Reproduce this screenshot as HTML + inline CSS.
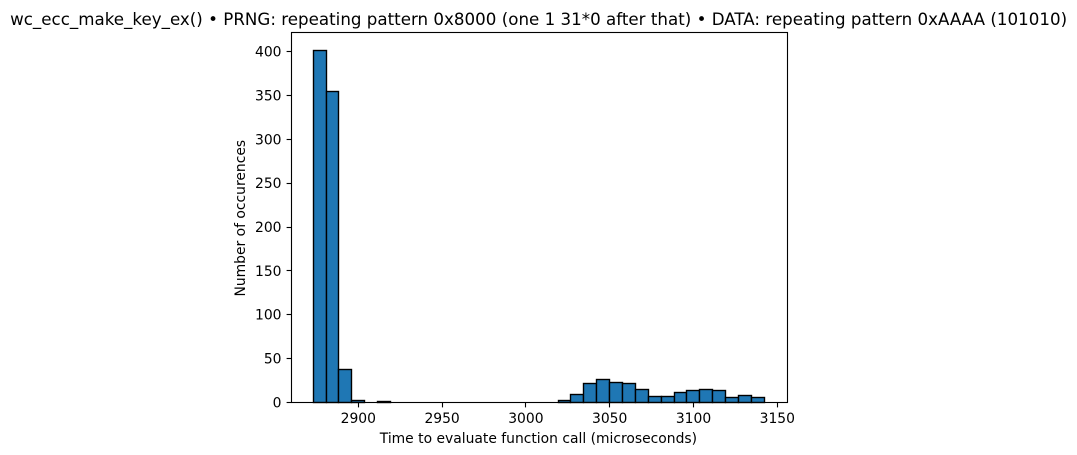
<!DOCTYPE html>
<html lang="en">
<head>
<meta charset="utf-8">
<title>wc_ecc_make_key_ex() histogram</title>
<style>
  html, body { margin: 0; padding: 0; background: #fff; }
  svg { display: block; }
  text { font-family: "DejaVu Sans", "Liberation Sans", sans-serif; fill: #000; }
</style>
</head>
<body>
<svg id="chart" xmlns="http://www.w3.org/2000/svg" width="1077" height="455" viewBox="0 0 1077 455">
  <rect x="0" y="0" width="1077" height="455" fill="#fff"/>
  <text x="538.6" y="25" font-size="16.67" text-anchor="middle" textLength="1057" lengthAdjust="spacing">wc_ecc_make_key_ex() • PRNG: repeating pattern 0x8000 (one 1 31*0 after that) • DATA: repeating pattern 0xAAAA (101010)</text>
  <g id="bars"></g>
  <g id="ticks"></g>
  <rect x="291.5" y="32.5" width="496" height="370" fill="none" stroke="#000" stroke-width="1.11"/>
  <text x="538.4" y="443" font-size="13.89" text-anchor="middle">Time to evaluate function call (microseconds)</text>
  <text x="245" y="218.2" font-size="13.89" text-anchor="middle" transform="rotate(-90 245 218.2)">Number of occurences</text>
</svg>
<script>
const firstBinStart = 2873.1;
const binWidth = 7.69;
const binCounts = [401, 355, 37, 2, 0, 1, 0, 0, 0, 0, 0, 0, 0, 0, 0, 0, 0, 0, 0, 2, 9, 21, 26, 23, 22, 15, 7, 7, 11, 14, 15, 13, 6, 8, 5];
const xTickValues = [2900, 2950, 3000, 3050, 3100, 3150];
const yTickValues = [0, 50, 100, 150, 200, 250, 300, 350, 400];

const NS = 'http://www.w3.org/2000/svg';
function xScale(v) { return 358.3 + (v - 2900) * 1.676; }
function yScale(v) { return 402.3 - v * 0.8765; }
function snap(p) { return Math.floor(p) + 0.5; }

const barsGroup = document.getElementById('bars');
const ticksGroup = document.getElementById('ticks');

binCounts.forEach(function (count, i) {
  if (count <= 0) return;
  const left = snap(xScale(firstBinStart + i * binWidth));
  const right = snap(xScale(firstBinStart + (i + 1) * binWidth));
  const top = snap(yScale(count));
  const r = document.createElementNS(NS, 'rect');
  r.setAttribute('x', left);
  r.setAttribute('y', top);
  r.setAttribute('width', right - left);
  r.setAttribute('height', snap(yScale(0)) - top);
  r.setAttribute('fill', '#1f77b4');
  r.setAttribute('stroke', '#000');
  r.setAttribute('stroke-width', '1.39');
  
  
  barsGroup.appendChild(r);
});

xTickValues.forEach(function (v) {
  const x = xScale(v);
  const l = document.createElementNS(NS, 'line');
  l.setAttribute('x1', snap(x));
  l.setAttribute('x2', snap(x));
  l.setAttribute('y1', 402.5);
  l.setAttribute('y2', 407.4);
  l.setAttribute('stroke', '#000');
  l.setAttribute('stroke-width', '1.11');
  
  
  ticksGroup.appendChild(l);
  const t = document.createElementNS(NS, 'text');
  t.setAttribute('x', x);
  t.setAttribute('y', 423);
  t.setAttribute('font-size', '13.89');
  t.setAttribute('text-anchor', 'middle');
  
  
  t.textContent = v;
  ticksGroup.appendChild(t);
});

yTickValues.forEach(function (v) {
  const y = yScale(v);
  const l = document.createElementNS(NS, 'line');
  l.setAttribute('x1', 286.6);
  l.setAttribute('x2', 291.5);
  l.setAttribute('y1', snap(y));
  l.setAttribute('y2', snap(y));
  l.setAttribute('stroke', '#000');
  l.setAttribute('stroke-width', '1.11');
  
  
  ticksGroup.appendChild(l);
  const t = document.createElementNS(NS, 'text');
  t.setAttribute('x', 281.5);
  t.setAttribute('y', y + 5);
  t.setAttribute('font-size', '13.89');
  t.setAttribute('text-anchor', 'end');
  
  
  t.textContent = v;
  ticksGroup.appendChild(t);
});
</script>
</body>
</html>
